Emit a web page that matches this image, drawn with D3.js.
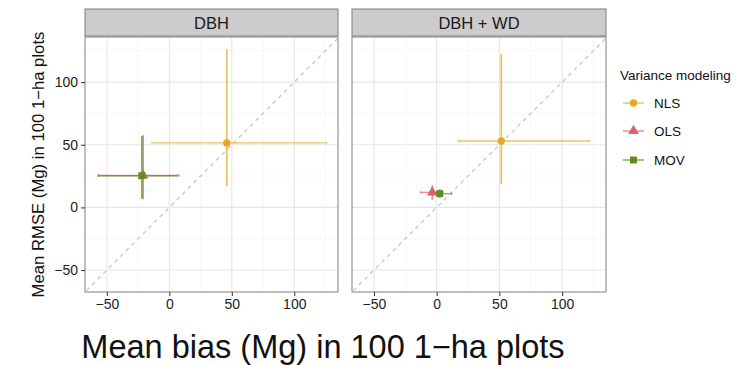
<!DOCTYPE html>
<html>
<head>
<meta charset="utf-8">
<script src="https://cdn.jsdelivr.net/npm/d3@7"></script>
<style>
  body { margin: 0; background: #fff; }
  svg { font-family: "Liberation Sans", Arial, sans-serif; }
</style>
</head>
<body>
<div id="chart"></div>
<script>
// facets and series
const panels = ["DBH", "DBH + WD"];
const methods = ["NLS", "OLS", "MOV"];
const methodColors = ["#E5A823", "#D8616A", "#5E8C1F"];

// mean bias (x), mean RMSE (y), and error-bar extents, per panel, per method
const biasMean = [[46, -21, -22], [51.5, -3.5, 2.5]];
const biasLo   = [[-14, -57, -57], [17, -13, -1]];
const biasHi   = [[126, 8, 6], [122, 3, 12]];
const rmseMean = [[51.5, 25.5, 25.3], [53, 12, 11]];
const rmseLo   = [[17, 6.5, 7], [18.5, 6, 7.5]];
const rmseHi   = [[126.5, 57.5, 57], [122.5, 17.5, 14.5]];

const xTicks = [-50, 0, 50, 100];
const yTicks = [-50, 0, 50, 100];
const xMinor = [-25, 25, 75, 125];
const yMinor = [-25, 25, 75, 125];

const width = 750, height = 365;
const panelX = [[85, 338], [352, 606]];
const panelTop = 37, panelBottom = 292;
const stripTop = 9;

const svg = d3.select("#chart").append("svg")
  .attr("width", width).attr("height", height);

const y = d3.scaleLinear().domain([-67.5, 136]).range([panelBottom, panelTop]);

const symbols = [d3.symbolCircle, d3.symbolTriangle, d3.symbolSquare];
const symbolSizes = [42, 50, 48];

panels.forEach((name, p) => {
  const x = d3.scaleLinear().domain([-67.5, 135]).range(panelX[p]);
  const g = svg.append("g");
  const [x0, x1] = panelX[p];

  // panel background
  g.append("rect").attr("x", x0).attr("y", panelTop)
    .attr("width", x1 - x0).attr("height", panelBottom - panelTop)
    .attr("fill", "#fff");

  // grid — minor then major
  g.selectAll(".vminor").data(xMinor).join("line")
    .attr("x1", d => x(d)).attr("x2", d => x(d))
    .attr("y1", panelTop).attr("y2", panelBottom)
    .attr("stroke", "#f2f2f2").attr("stroke-width", 0.6);
  g.selectAll(".hminor").data(yMinor).join("line")
    .attr("y1", d => y(d)).attr("y2", d => y(d))
    .attr("x1", x0).attr("x2", x1)
    .attr("stroke", "#f2f2f2").attr("stroke-width", 0.6);
  g.selectAll(".vmajor").data(xTicks).join("line")
    .attr("x1", d => x(d)).attr("x2", d => x(d))
    .attr("y1", panelTop).attr("y2", panelBottom)
    .attr("stroke", "#e6e6e6").attr("stroke-width", 1.1);
  g.selectAll(".hmajor").data(yTicks).join("line")
    .attr("y1", d => y(d)).attr("y2", d => y(d))
    .attr("x1", x0).attr("x2", x1)
    .attr("stroke", "#e6e6e6").attr("stroke-width", 1.1);

  // 1:1 line, clipped to the panel
  const clipId = "clip" + p;
  svg.append("clipPath").attr("id", clipId).append("rect")
    .attr("x", x0).attr("y", panelTop)
    .attr("width", x1 - x0).attr("height", panelBottom - panelTop);
  const inner = g.append("g").attr("clip-path", `url(#${clipId})`);
  inner.append("line")
    .attr("x1", x(-80)).attr("y1", y(-80))
    .attr("x2", x(150)).attr("y2", y(150))
    .attr("stroke", "#bdbdbd").attr("stroke-width", 1.1)
    .attr("stroke-dasharray", "4,4");

  // error bars and points
  const rows = methods.map((m, i) => ({
    i, bx: biasMean[p][i], bl: biasLo[p][i], bh: biasHi[p][i],
    ry: rmseMean[p][i], rl: rmseLo[p][i], rh: rmseHi[p][i],
  }));
  rows.forEach(d => {
    const c = methodColors[d.i];
    const eg = inner.append("g").attr("stroke", c).attr("stroke-opacity", 0.7);
    eg.append("line").attr("x1", x(d.bl)).attr("x2", x(d.bh))
      .attr("y1", y(d.ry)).attr("y2", y(d.ry)).attr("stroke-width", 1.4);
    [d.bl, d.bh].forEach(v => eg.append("line")
      .attr("x1", x(v)).attr("x2", x(v))
      .attr("y1", y(d.ry) - 1.5).attr("y2", y(d.ry) + 1.5).attr("stroke-width", 0.8));
    eg.append("line").attr("x1", x(d.bx)).attr("x2", x(d.bx))
      .attr("y1", y(d.rl)).attr("y2", y(d.rh)).attr("stroke-width", 1.8);
  });
  rows.forEach(d => {
    inner.append("path")
      .attr("d", d3.symbol(symbols[d.i], symbolSizes[d.i])())
      .attr("transform", `translate(${x(d.bx)},${y(d.ry)})`)
      .attr("fill", methodColors[d.i]);
  });

  // panel border
  g.append("rect").attr("x", x0).attr("y", panelTop)
    .attr("width", x1 - x0).attr("height", panelBottom - panelTop)
    .attr("fill", "none").attr("stroke", "#7f7f7f").attr("stroke-width", 1);

  // strip
  g.append("rect").attr("x", x0).attr("y", stripTop)
    .attr("width", x1 - x0).attr("height", panelTop - stripTop - 1)
    .attr("fill", "#cccccc").attr("stroke", "#7f7f7f").attr("stroke-width", 1);
  g.append("text").attr("x", (x0 + x1) / 2).attr("y", (stripTop + panelTop) / 2)
    .attr("text-anchor", "middle").attr("dominant-baseline", "central")
    .attr("font-size", 16.5).attr("fill", "#1a1a1a").text(name);

  // x axis
  const xAxis = g.append("g")
    .attr("transform", `translate(0,${panelBottom})`)
    .call(d3.axisBottom(x).tickValues(xTicks).tickSize(4).tickPadding(3)
      .tickFormat(d => d < 0 ? "\u2212" + Math.abs(d) : d));
  xAxis.select(".domain").remove();
  xAxis.selectAll("line").attr("stroke", "#333");
  xAxis.selectAll("text").attr("font-size", 14).attr("fill", "#222")
    .attr("font-family", "Liberation Sans, Arial, sans-serif");

  // y axis on the first panel only
  if (p === 0) {
    const yAxis = g.append("g")
      .attr("transform", `translate(${x0},0)`)
      .call(d3.axisLeft(y).tickValues(yTicks).tickSize(4).tickPadding(3)
        .tickFormat(d => d < 0 ? "\u2212" + Math.abs(d) : d));
    yAxis.select(".domain").remove();
    yAxis.selectAll("line").attr("stroke", "#333");
    yAxis.selectAll("text").attr("font-size", 14).attr("fill", "#222")
      .attr("font-family", "Liberation Sans, Arial, sans-serif");
  }
});

// axis titles
svg.append("text")
  .attr("transform", `translate(38,${(panelTop + panelBottom) / 2}) rotate(-90)`)
  .attr("text-anchor", "middle").attr("dominant-baseline", "central")
  .attr("font-size", 16.7).attr("fill", "#111")
  .text("Mean RMSE (Mg) in 100 1\u2212ha plots");

svg.append("text")
  .attr("x", 323).attr("y", 358)
  .attr("text-anchor", "middle")
  .attr("font-size", 32.5).attr("fill", "#111")
  .text("Mean bias (Mg) in 100 1\u2212ha plots");

// legend
const legend = svg.append("g").attr("transform", "translate(620,0)");
legend.append("text").attr("x", 0).attr("y", 80)
  .attr("font-size", 13.5).attr("fill", "#111").text("Variance modeling");
const keyY = [103, 131, 160];
methods.forEach((m, i) => {
  const k = legend.append("g").attr("transform", `translate(0,${keyY[i]})`);
  k.append("line").attr("x1", 3).attr("x2", 24).attr("y1", 0).attr("y2", 0)
    .attr("stroke", methodColors[i]).attr("stroke-opacity", 0.75).attr("stroke-width", 1.4);
  k.append("path").attr("d", d3.symbol(symbols[i], symbolSizes[i])())
    .attr("transform", "translate(13.5,0)").attr("fill", methodColors[i]);
  k.append("text").attr("x", 34).attr("y", 0).attr("dominant-baseline", "central")
    .attr("font-size", 13.5).attr("fill", "#111").text(m);
});
</script>
</body>
</html>
